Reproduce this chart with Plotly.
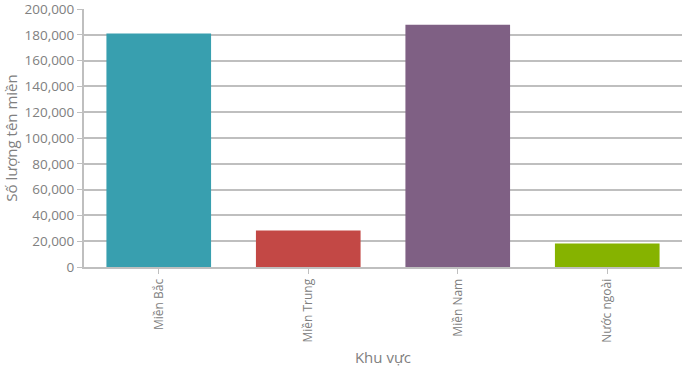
import plotly.graph_objects as go

categories = ["Miền Bắc", "Miền Trung", "Miền Nam", "Nước ngoài"]
values = [181000, 28200, 187800, 18300]
colors = ["#389FAF", "#C34845", "#7F6084", "#86B300"]
y_ticks = list(range(0, 200001, 20000))

fig = go.Figure(go.Bar(x=categories, y=values, marker=dict(color=colors, line=dict(width=0))))

font_family = "Open Sans, DejaVu Sans, sans-serif"
fig.update_layout(
    width=692, height=374,
    margin=dict(l=84, r=10, t=9, b=107),
    plot_bgcolor="white", paper_bgcolor="white",
    bargap=0.3,
    showlegend=False,
    font=dict(family=font_family, color="#808080"),
)
fig.update_xaxes(
    tickangle=-90,
    tickfont=dict(size=12, color="#808080"),
    ticks="outside", ticklen=5, tickcolor="#BFBFBF",
    showline=True, linecolor="#BFBFBF", linewidth=2,
    automargin=False,
    title=dict(text="Khu vực", font=dict(size=15, color="#808080"), standoff=11),
)
fig.update_yaxes(
    range=[0, 200000],
    tickvals=y_ticks,
    tickformat=",d",
    tickfont=dict(size=13.5, color="#808080"),
    ticklabeloverflow="allow",
    automargin=False,
    ticks="outside", ticklen=5, tickcolor="#BFBFBF",
    showline=True, linecolor="#BFBFBF", linewidth=2,
    showgrid=True, gridcolor="#BFBFBF", gridwidth=2,
    zeroline=False,
    title=dict(text="Số lượng tên miền", font=dict(size=15, color="#808080"), standoff=3),
)
fig.write_html("out.html")
